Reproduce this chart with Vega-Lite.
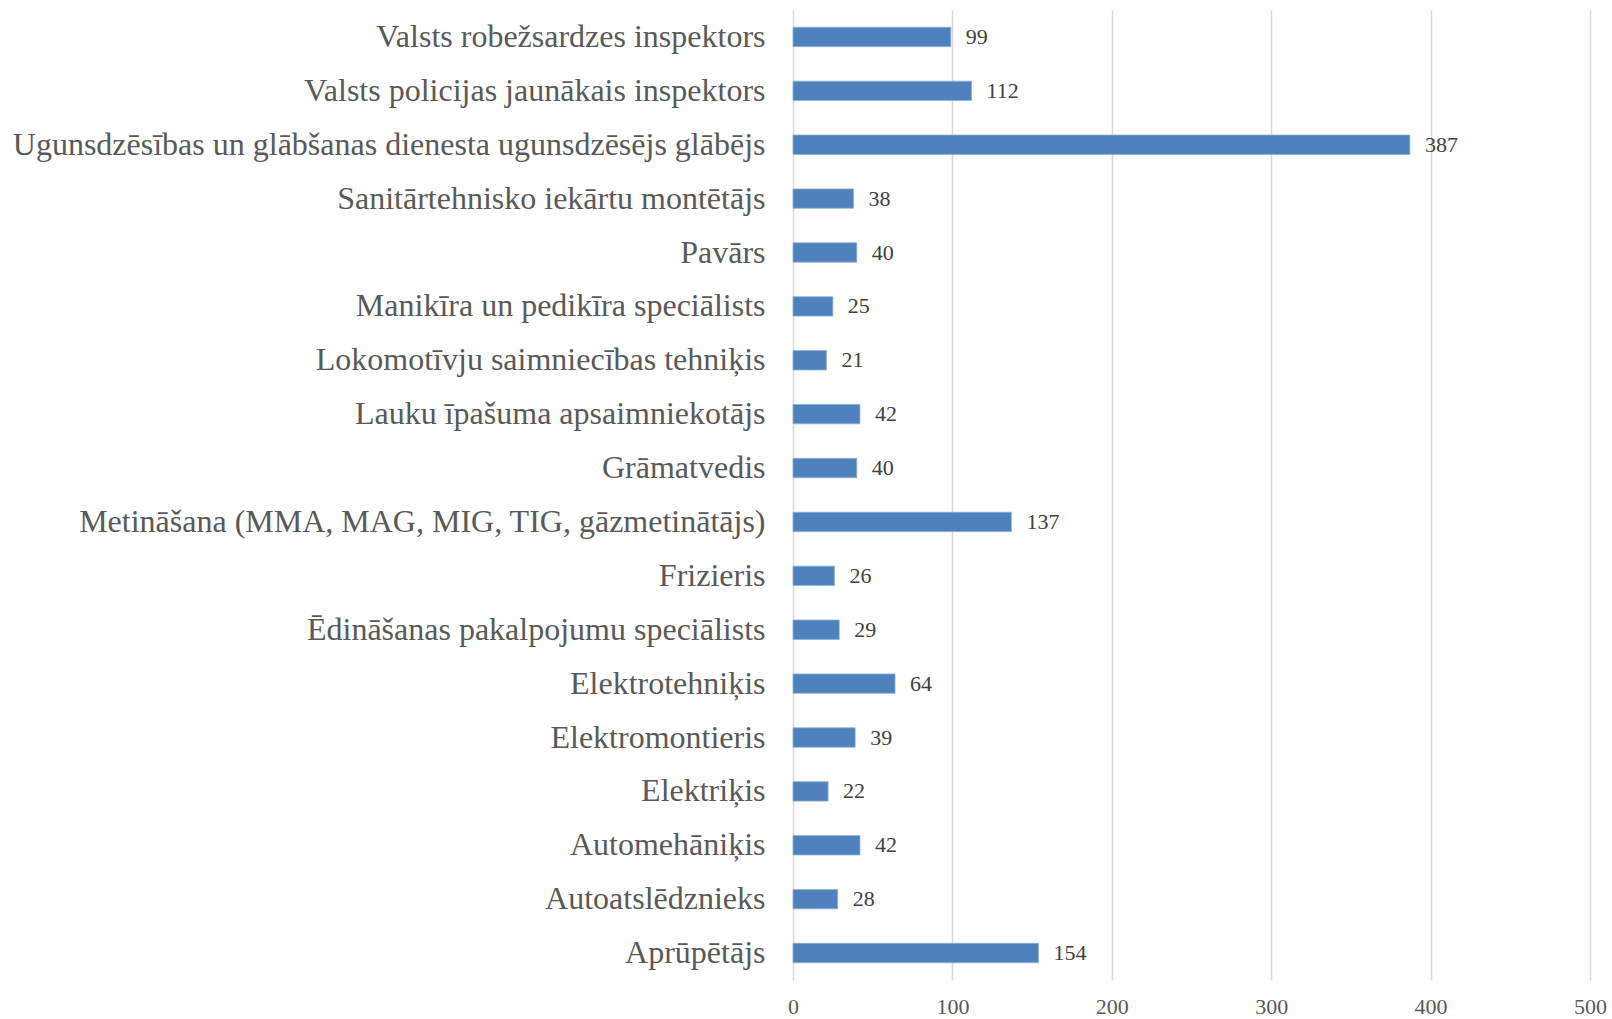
{
  "$schema": "https://vega.github.io/schema/vega-lite/v6.json",
  "width": 797,
  "height": 970,
  "autosize": {"type": "none"},
  "padding": {"left": 793, "top": 10, "right": 22, "bottom": 39},
  "background": "white",
  "config": {
    "font": "Liberation Serif",
    "view": {"stroke": null}
  },
  "data": {
    "values": [
      {"c": "Valsts robežsardzes inspektors", "v": 99},
      {"c": "Valsts policijas jaunākais inspektors", "v": 112},
      {"c": "Ugunsdzēsības un glābšanas dienesta ugunsdzēsējs glābējs", "v": 387},
      {"c": "Sanitārtehnisko iekārtu montētājs", "v": 38},
      {"c": "Pavārs", "v": 40},
      {"c": "Manikīra un pedikīra speciālists", "v": 25},
      {"c": "Lokomotīvju saimniecības tehniķis", "v": 21},
      {"c": "Lauku īpašuma apsaimniekotājs", "v": 42},
      {"c": "Grāmatvedis", "v": 40},
      {"c": "Metināšana (MMA, MAG, MIG, TIG, gāzmetinātājs)", "v": 137},
      {"c": "Frizieris", "v": 26},
      {"c": "Ēdināšanas pakalpojumu speciālists", "v": 29},
      {"c": "Elektrotehniķis", "v": 64},
      {"c": "Elektromontieris", "v": 39},
      {"c": "Elektriķis", "v": 22},
      {"c": "Automehāniķis", "v": 42},
      {"c": "Autoatslēdznieks", "v": 28},
      {"c": "Aprūpētājs", "v": 154}
    ]
  },
  "encoding": {
    "y": {
      "field": "c",
      "type": "nominal",
      "sort": null,
      "title": null,
      "scale": {"paddingInner": 0.64, "paddingOuter": 0.32},
      "axis": {
        "domain": false,
        "ticks": false,
        "labelFontSize": 32,
        "labelColor": "#595959",
        "labelPadding": 28,
        "labelLimit": 1000,
        "labelFont": "Liberation Serif"
      }
    },
    "x": {
      "field": "v",
      "type": "quantitative",
      "title": null,
      "scale": {"domain": [0, 500], "nice": false},
      "axis": {
        "values": [0, 100, 200, 300, 400, 500],
        "domain": false,
        "ticks": false,
        "grid": true,
        "gridColor": "#d9d9d9",
        "gridWidth": 1.5,
        "labelFontSize": 22,
        "labelColor": "#595959",
        "labelPadding": 16,
        "labelFont": "Liberation Serif",
        "labelFlush": false
      }
    }
  },
  "layer": [
    {"mark": {"type": "bar", "color": "#4f81bd", "stroke": "#8eb0d9", "strokeWidth": 0.8}},
    {
      "mark": {"type": "text", "align": "left", "baseline": "middle", "dx": 15, "fontSize": 22, "color": "#404040", "font": "Liberation Serif"},
      "encoding": {"text": {"field": "v", "type": "quantitative"}}
    }
  ]
}
